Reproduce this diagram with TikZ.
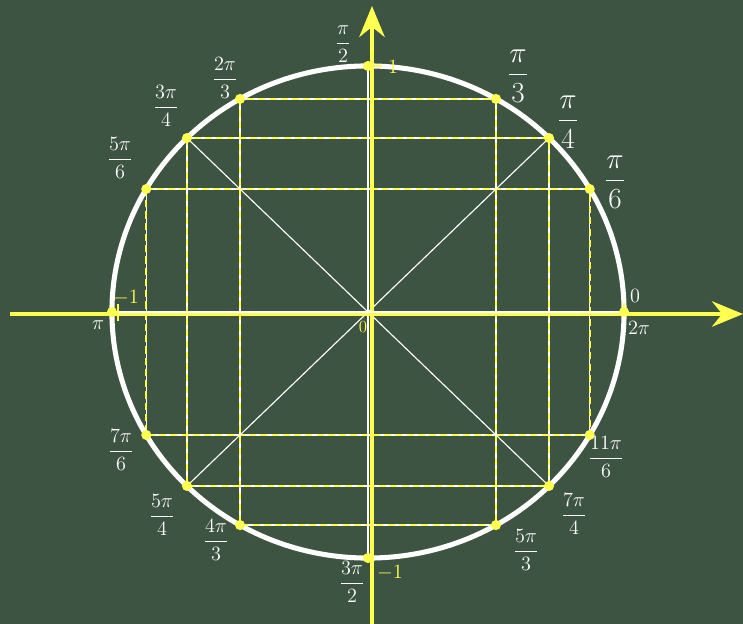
\documentclass[tikz,border=0pt]{standalone}
\usepackage{amsmath}
\usepackage{tikz}
\usetikzlibrary{arrows.meta}

\definecolor{board}{RGB}{62,84,66}
\definecolor{chalkyellow}{RGB}{255,255,80}

\begin{document}
\begin{tikzpicture}[
    x=0.025cm,
    y=0.025cm,
    font=\fontsize{15}{18}\selectfont,
    axis/.style={
        chalkyellow,
        line width=3pt,
        -{Stealth[length=22pt,width=18pt]}
    },
    guide/.style={
        white,
        line width=0.8pt,
        postaction={
            draw=chalkyellow,
            line width=1.6pt,
            dash pattern=on 5pt off 3pt
        }
    },
    chord/.style={
        white,
        line width=0.8pt
    },
    rim/.style={
        white,
        line width=3.6pt
    },
    dot/.style={
        chalkyellow,
        radius=3.6pt
    },
    tag/.style={
        text=white
    },
    bigtag/.style={
        text=white,
        font=\fontsize{20}{24}\selectfont
    },
    val/.style={
        text=chalkyellow
    }
]

% board
\fill[
    board
] (-368,-312) rectangle (375,312);
\useasboundingbox (-368,-312) rectangle (375,312);

% points on the circle
\foreach \a in {0,30,45,60,90,120,135,150,180,210,225,240,270,300,315,330}
    \coordinate (p\a) at ({256*cos(\a)},{246*sin(\a)});

% dashed rectangles
\draw[guide] (p120) rectangle (p300);
\draw[guide] (p135) rectangle (p315);
\draw[guide] (p150) rectangle (p330);

% diagonals
\draw[chord] (p135) -- (p315);
\draw[chord] (p45) -- (p225);
\draw[chord] (p90) -- (p270);

% unit circle
\draw[
    rim
] (0,0) ellipse [x radius=6.4cm, y radius=6.15cm];

% axes
\draw[axis] (-358,-2) -- (375,-2);
\draw[axis] (4,-312) -- (4,306);
\draw[chord] (p180) -- (p0);

% ticks
\draw[chalkyellow, line width=2pt] (-250,-9) -- (-250,8);
\draw[chalkyellow, line width=2pt] (256,-2) -- (256,9);
\draw[chalkyellow, line width=2pt] (4,246) -- (14,246);

% dots
\foreach \a in {0,30,45,60,90,120,135,150,180,210,225,240,270,300,315,330}
    \fill[dot] (p\a) circle;

% labels
\node[tag] (l90) at (-25,268) {$\dfrac{\pi}{2}$};
\node[tag] (l120) at (-143,234) {$\dfrac{2\pi}{3}$};
\node[bigtag] (l60) at (150,236) {$\dfrac{\pi}{3}$};
\node[tag] (l135) at (-202,206) {$\dfrac{3\pi}{4}$};
\node[bigtag] (l45) at (200,190) {$\dfrac{\pi}{4}$};
\node[tag] (l150) at (-248,154) {$\dfrac{5\pi}{6}$};
\node[bigtag] (l30) at (247,130) {$\dfrac{\pi}{6}$};
\node[tag] (l180) at (-270,-13) {$\pi$};
\node[tag] (l0) at (267,16) {$0$};
\node[tag] (l360) at (271,-16) {$2\pi$};
\node[tag] (l210) at (-247,-138) {$\dfrac{7\pi}{6}$};
\node[tag] (l330) at (238,-145) {$\dfrac{11\pi}{6}$};
\node[tag] (l225) at (-206,-203) {$\dfrac{5\pi}{4}$};
\node[tag] (l315) at (206,-202) {$\dfrac{7\pi}{4}$};
\node[tag] (l240) at (-152,-228) {$\dfrac{4\pi}{3}$};
\node[tag] (l300) at (158,-238) {$\dfrac{5\pi}{3}$};
\node[tag] (l270) at (-16,-270) {$\dfrac{3\pi}{2}$};

% values on the axes
\node[val] (v1) at (25,245) {$1$};
\node[val] (vm1) at (-242,14) {$-1$};
\node[val] (vm1b) at (22,-261) {$-1$};
\node[val, font=\fontsize{12}{14}\selectfont] (o) at (-5,-15) {$0$};

\end{tikzpicture}
\end{document}
